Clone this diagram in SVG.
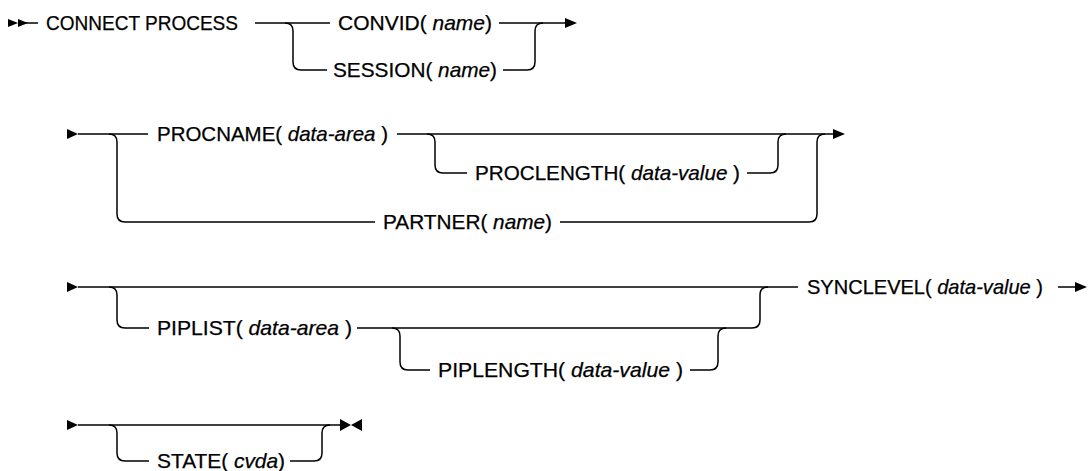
<svg xmlns="http://www.w3.org/2000/svg" width="1088" height="471" viewBox="0 0 1088 471">
<style>
.ln{fill:none;stroke:#000;stroke-width:1.5}
.ah{fill:#000;stroke:none}
text{font-family:"Liberation Sans",Arial,sans-serif;font-size:21px;fill:#000;stroke:#000;stroke-width:0.25}
.i{font-style:italic}
</style>
<rect width="1088" height="471" fill="#fff"/>
<g id="connectors">
<!-- row 1 -->
<path class="ah" d="M8,19 L18,23 L8,27 Z M18,19 L28,23 L18,27 Z"/>
<path class="ln" d="M18,23 L38,23"/>
<path class="ln" d="M255,23 L330,23"/>
<path class="ln" d="M285,23 Q293,23 293,31 L293,62 Q293,70 301,70 L327,70"/>
<path class="ln" d="M499,23 L566,23"/>
<path class="ah" d="M565,18 L577,23 L565,28 Z"/>
<path class="ln" d="M503,70 L527,70 Q535,70 535,62 L535,31 Q535,23 543,23"/>
<!-- row 2 -->
<path class="ah" d="M67,129 L78,134 L67,139 Z"/>
<path class="ln" d="M78,134 L148,134"/>
<path class="ln" d="M109,134 Q117,134 117,142 L117,214 Q117,222 125,222 L375,222"/>
<path class="ln" d="M397,134 L834,134"/>
<path class="ah" d="M833,129 L845,134 L833,139 Z"/>
<path class="ln" d="M427,134 Q435,134 435,142 L435,165 Q435,173 443,173 L467,173"/>
<path class="ln" d="M747,173 L770,173 Q778,173 778,165 L778,142 Q778,134 786,134"/>
<path class="ln" d="M560,222 L809,222 Q817,222 817,214 L817,142 Q817,134 825,134"/>
<!-- row 3 -->
<path class="ah" d="M67,282 L78,287 L67,292 Z"/>
<path class="ln" d="M78,287 L798,287"/>
<path class="ln" d="M109,287 Q117,287 117,295 L117,320 Q117,328 125,328 L149,328"/>
<path class="ln" d="M357,328 L752,328 Q760,328 760,320 L760,295 Q760,287 768,287"/>
<path class="ln" d="M392,328 Q400,328 400,336 L400,362 Q400,370 408,370 L430,370"/>
<path class="ln" d="M690,370 L710,370 Q718,370 718,362 L718,336 Q718,328 726,328"/>
<path class="ln" d="M1058,287 L1076,287"/>
<path class="ah" d="M1075,282 L1087,287 L1075,292 Z"/>
<!-- row 4 -->
<path class="ah" d="M67,420 L78,425 L67,430 Z"/>
<path class="ln" d="M78,425 L341,425"/>
<path class="ln" d="M109,425 Q117,425 117,433 L117,453 Q117,461 125,461 L149,461"/>
<path class="ln" d="M290,461 L314,461 Q322,461 322,453 L322,433 Q322,425 330,425"/>
<path class="ah" d="M340,419 L351,425 L340,431 Z M362,419 L351,425 L362,431 Z"/>
</g>
<g id="n-connect"><text x="46" y="30" textLength="192" lengthAdjust="spacingAndGlyphs">CONNECT PROCESS</text></g>
<g id="n-convid"><text x="338" y="30" textLength="154" lengthAdjust="spacingAndGlyphs">CONVID( <tspan class="i">name</tspan>)</text></g>
<g id="n-session"><text x="333" y="77" textLength="164" lengthAdjust="spacingAndGlyphs">SESSION( <tspan class="i">name</tspan>)</text></g>
<g id="n-procname"><text x="157" y="141" textLength="231" lengthAdjust="spacingAndGlyphs">PROCNAME( <tspan class="i">data-area</tspan> )</text></g>
<g id="n-proclength"><text x="475" y="180" textLength="265" lengthAdjust="spacingAndGlyphs">PROCLENGTH( <tspan class="i">data-value</tspan> )</text></g>
<g id="n-partner"><text x="383" y="229" textLength="169" lengthAdjust="spacingAndGlyphs">PARTNER( <tspan class="i">name</tspan>)</text></g>
<g id="n-piplist"><text x="157" y="335" textLength="195" lengthAdjust="spacingAndGlyphs">PIPLIST( <tspan class="i">data-area</tspan> )</text></g>
<g id="n-piplength"><text x="438" y="377" textLength="245" lengthAdjust="spacingAndGlyphs">PIPLENGTH( <tspan class="i">data-value</tspan> )</text></g>
<g id="n-synclevel"><text x="807" y="294" textLength="236" lengthAdjust="spacingAndGlyphs">SYNCLEVEL( <tspan class="i">data-value</tspan> )</text></g>
<g id="n-state"><text x="157" y="468" textLength="128" lengthAdjust="spacingAndGlyphs">STATE( <tspan class="i">cvda</tspan>)</text></g>
</svg>
